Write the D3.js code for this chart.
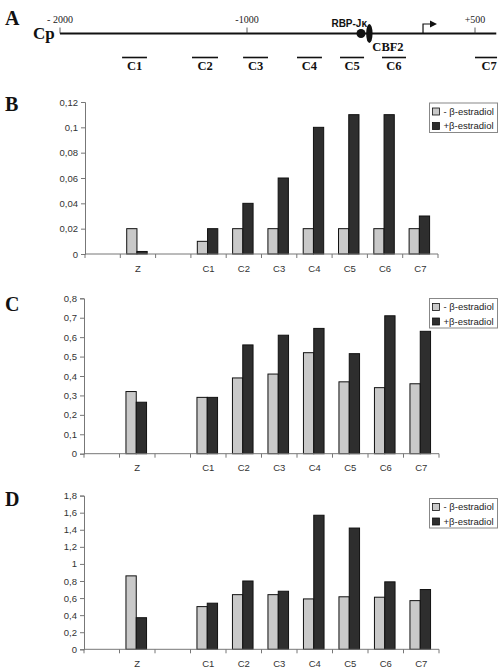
<!DOCTYPE html>
<html>
<head>
<meta charset="utf-8">
<script src="https://cdn.jsdelivr.net/npm/d3@7"></script>
<style>
  html, body { margin: 0; padding: 0; background: #fff; }
  svg { display: block; }
</style>
</head>
<body>
<script>
// ---------- DATA ----------
// Panel A: promoter map (positions in bp)
const mapTicks = [-2000, -1000, 500];
const mapTickLabels = ["- 2000", "-1000", "+500"];
const mapExtent = [-2000, 640];
const fragNames = ["C1", "C2", "C3", "C4", "C5", "C6", "C7"];
const fragStart = [-1668, -1294, -1021, -671, -388, -112, 500];
const fragEnd   = [-1535, -1155,  -862, -507, -230,   46, 645];
const rbpPos = -250;
const cbfPos = -195;
const tssPos = 158;

// Bar charts
const slots = ["", "Z", "", "C1", "C2", "C3", "C4", "C5", "C6", "C7"];
const groups = ["Z", "C1", "C2", "C3", "C4", "C5", "C6", "C7"];
const seriesNames = ["- \u03b2-estradiol", "+\u03b2-estradiol"];

const bMinus = [0.02, 0.01, 0.02, 0.02, 0.02, 0.02, 0.02, 0.02];
const bPlus  = [0.002, 0.02, 0.04, 0.06, 0.10, 0.11, 0.11, 0.03];
const bTicks = [0, 0.02, 0.04, 0.06, 0.08, 0.1, 0.12];

const cMinus = [0.32, 0.29, 0.39, 0.41, 0.52, 0.37, 0.34, 0.36];
const cPlus  = [0.265, 0.29, 0.56, 0.61, 0.645, 0.515, 0.71, 0.63];
const cTicks = [0, 0.1, 0.2, 0.3, 0.4, 0.5, 0.6, 0.7, 0.8];

const dMinus = [0.86, 0.50, 0.64, 0.64, 0.59, 0.615, 0.61, 0.57];
const dPlus  = [0.37, 0.54, 0.80, 0.68, 1.57, 1.42, 0.79, 0.70];
const dTicks = [0, 0.2, 0.4, 0.6, 0.8, 1, 1.2, 1.4, 1.6, 1.8];

// ---------- DRAW ----------
const W = 502, H = 671;
const svg = d3.select("body").append("svg").attr("width", W).attr("height", H);
const serif = "'Liberation Serif', 'Times New Roman', serif";
const sans = "'Liberation Sans', Arial, sans-serif";

function panelLetter(t, x, y) {
  svg.append("text").attr("x", x).attr("y", y).text(t)
    .attr("font-family", serif).attr("font-weight", "bold").attr("font-size", 20).attr("fill", "#111");
}

// ---- Panel A ----
panelLetter("A", 5, 25);
const mx = d3.scaleLinear().domain([-2000, -1000, 500]).range([60, 247, 475]);
const gA = svg.append("g");
const lineY = 33.5;
gA.append("line").attr("x1", mx(mapExtent[0])).attr("x2", mx(mapExtent[1]))
  .attr("y1", lineY).attr("y2", lineY).attr("stroke", "#111").attr("stroke-width", 2);
gA.append("text").attr("x", 33).attr("y", 39).text("Cp")
  .attr("font-family", serif).attr("font-weight", "bold").attr("font-size", 17).attr("fill", "#111");
mapTicks.forEach((t, i) => {
  gA.append("line").attr("x1", mx(t)).attr("x2", mx(t)).attr("y1", lineY - 6).attr("y2", lineY)
    .attr("stroke", "#333").attr("stroke-width", 0.8);
  gA.append("text").attr("x", mx(t)).attr("y", 23).text(mapTickLabels[i])
    .attr("text-anchor", "middle").attr("font-family", serif).attr("font-size", 10).attr("fill", "#222");
});
// RBP-Jk and CBF2
gA.append("circle").attr("cx", mx(rbpPos)).attr("cy", lineY).attr("r", 4.5).attr("fill", "#111");
gA.append("ellipse").attr("cx", mx(cbfPos)).attr("cy", lineY).attr("rx", 3.2).attr("ry", 9.5).attr("fill", "#111");
gA.append("text").attr("x", mx(rbpPos) + 6).attr("y", 27).text("RBP-J\u03ba")
  .attr("text-anchor", "end").attr("font-family", sans).attr("font-weight", "bold").attr("font-size", 10).attr("fill", "#111");
gA.append("text").attr("x", mx(cbfPos) + 3).attr("y", 51).text("CBF2")
  .attr("font-family", serif).attr("font-weight", "bold").attr("font-size", 12.5).attr("fill", "#111");
// TSS arrow
const tx = mx(tssPos);
gA.append("path").attr("d", `M${tx},${lineY} V24 H${tx + 8}`).attr("fill", "none").attr("stroke", "#111").attr("stroke-width", 1.2);
gA.append("path").attr("d", `M${tx + 7},20.5 L${tx + 14},24 L${tx + 7},27.5 Z`).attr("fill", "#111");
// Fragments
fragNames.forEach((n, i) => {
  const x1 = mx(fragStart[i]), x2 = mx(fragEnd[i]);
  gA.append("line").attr("x1", x1).attr("x2", x2).attr("y1", 57.5).attr("y2", 57.5)
    .attr("stroke", "#111").attr("stroke-width", 1.6);
  gA.append("text").attr("x", (x1 + x2) / 2 + (i === 6 ? 3 : 0)).attr("y", 70).text(n)
    .attr("text-anchor", "middle").attr("font-family", serif).attr("font-weight", "bold").attr("font-size", 12.5).attr("fill", "#111");
});

// ---- Bar panels ----
function barPanel(opts) {
  const { letter, letterY, minus, plus, ticks, x0, x1, yBottom, yTop, legendTop, labelY } = opts;
  panelLetter(letter, 5, letterY);
  const g = svg.append("g");
  const x = d3.scaleBand().domain(d3.range(slots.length)).range([x0, x1]).padding(0);
  const y = d3.scaleLinear().domain([0, ticks[ticks.length - 1]]).range([yBottom, yTop]);
  const fmt = v => String(+v.toFixed(3)).replace(".", ",");

  // y axis
  const yAxis = d3.axisLeft(y).tickValues(ticks).tickFormat(fmt).tickSize(4).tickPadding(3);
  const ya = g.append("g").attr("transform", `translate(${x0},0)`).call(yAxis);
  ya.select(".domain").attr("stroke", "#777");
  ya.selectAll(".tick line").attr("stroke", "#777");
  ya.selectAll("text").attr("font-family", sans).attr("font-size", 9.5).attr("fill", "#333");

  // bars
  const bw = x.bandwidth() * 0.29;
  groups.forEach((gname, i) => {
    const si = slots.indexOf(gname, gname === "Z" ? 0 : 3);
    const cx = x(si) + x.bandwidth() / 2 - 1;
    [[minus[i], "#c9c9c9"], [plus[i], "#2e2e2e"]].forEach(([v, col], k) => {
      g.append("rect").attr("x", cx - bw + k * bw).attr("y", y(v)).attr("width", bw)
        .attr("height", y(0) - y(v)).attr("fill", col).attr("stroke", "#111").attr("stroke-width", 1);
    });
  });

  // x axis
  const xa = g.append("g").attr("transform", `translate(0,${yBottom})`);
  xa.append("line").attr("x1", x0).attr("x2", x1).attr("stroke", "#777");
  d3.range(slots.length + 1).forEach(i => {
    const px = i < slots.length ? x(i) : x1;
    xa.append("line").attr("x1", px).attr("x2", px).attr("y1", 0).attr("y2", 4).attr("stroke", "#777");
  });
  slots.forEach((s, i) => {
    if (!s) return;
    xa.append("text").attr("x", x(i) + x.bandwidth() / 2).attr("y", labelY - yBottom).text(s)
      .attr("text-anchor", "middle").attr("font-family", sans).attr("font-size", 9.5).attr("fill", "#333");
  });

  // legend
  const lg = g.append("g").attr("transform", `translate(429.5,${legendTop})`);
  lg.append("rect").attr("width", 68).attr("height", 29.5).attr("fill", "#fff").attr("stroke", "#888").attr("stroke-width", 1);
  ["#c9c9c9", "#2e2e2e"].forEach((col, k) => {
    lg.append("rect").attr("x", 3).attr("y", 5 + k * 14.5).attr("width", 7).attr("height", 7)
      .attr("fill", col).attr("stroke", "#111").attr("stroke-width", 0.8);
    lg.append("text").attr("x", 14).attr("y", 11.5 + k * 14.5).text(seriesNames[k])
      .attr("font-family", sans).attr("font-size", 9.5).attr("fill", "#222");
  });
}

barPanel({ letter: "B", letterY: 111, minus: bMinus, plus: bPlus, ticks: bTicks,
  x0: 85, x1: 438, yBottom: 254, yTop: 102, legendTop: 103, labelY: 272 });
barPanel({ letter: "C", letterY: 311, minus: cMinus, plus: cPlus, ticks: cTicks,
  x0: 84, x1: 439, yBottom: 453.7, yTop: 298.3, legendTop: 298.5, labelY: 471 });
barPanel({ letter: "D", letterY: 506, minus: dMinus, plus: dPlus, ticks: dTicks,
  x0: 84, x1: 439, yBottom: 649.3, yTop: 495.6, legendTop: 498.5, labelY: 667 });
</script>
</body>
</html>
